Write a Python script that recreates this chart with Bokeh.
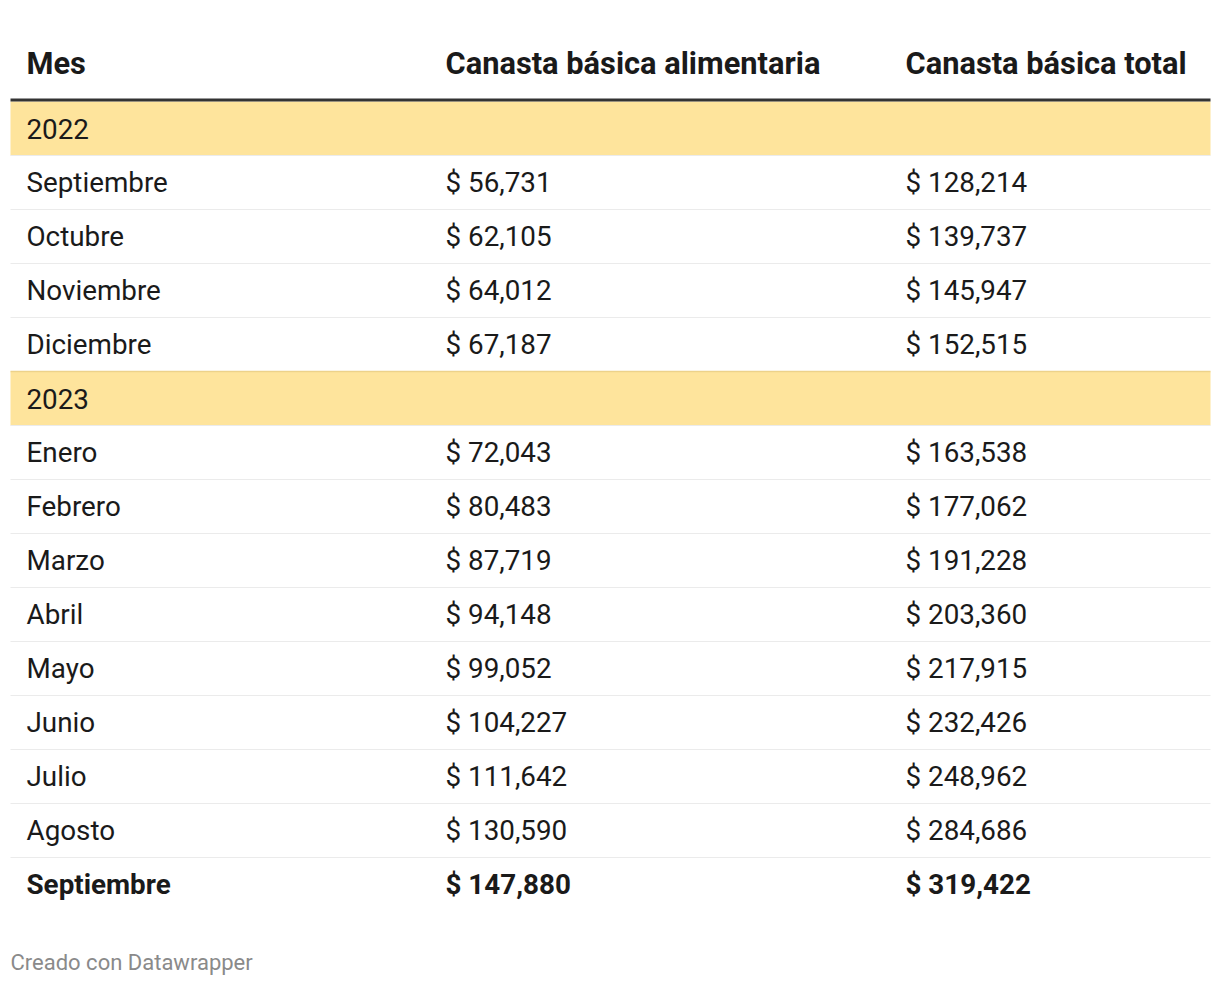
from bokeh.plotting import figure
from bokeh.models import Range1d, ColumnDataSource
from bokeh.core.properties import value
from bokeh.embed import file_html
from bokeh.resources import INLINE

headers = ["Mes", "Canasta básica alimentaria", "Canasta básica total"]
row_labels = ["2022", "Septiembre", "Octubre", "Noviembre", "Diciembre",
              "2023", "Enero", "Febrero", "Marzo", "Abril", "Mayo", "Junio",
              "Julio", "Agosto", "Septiembre"]
cba = [None, 56731, 62105, 64012, 67187, None, 72043, 80483, 87719, 94148,
       99052, 104227, 111642, 130590, 147880]
cbt = [None, 128214, 139737, 145947, 152515, None, 163538, 177062, 191228,
       203360, 217915, 232426, 248962, 284686, 319422]
footer = "Creado con Datawrapper"

W, H = 1212, 978
FONT = "Roboto"
ROW_H = 54
TOP = 101         # top of first body row
COL_X = [26, 445, 905]
LEFT, RIGHT = 10, 1210

p = figure(width=W, height=H, x_range=Range1d(0, W), y_range=Range1d(H, 0),
           output_backend="svg", toolbar_location=None, min_border=0)
p.axis.visible = False
p.grid.visible = False
p.outline_line_color = None
p.background_fill_color = "white"
p.border_fill_color = "white"

n = len(row_labels)
is_year = [c is None for c in cba]
tops = [TOP + ROW_H * i for i in range(n)]
centers = [t + ROW_H / 2 for t in tops]

# year bands
yt = [tops[i] for i in range(n) if is_year[i]]
p.quad(left=LEFT, right=RIGHT, top=yt, bottom=[t + ROW_H for t in yt],
       fill_color="#FEE49C", line_color=None)
p.segment(x0=LEFT, x1=RIGHT, y0=yt[1:], y1=yt[1:], line_color="#EDD28A", line_width=1.5)

# separators
seps = []
for i in range(n - 1):
    if is_year[i + 1]:
        continue
    seps.append(tops[i] + ROW_H)
p.segment(x0=LEFT, x1=RIGHT, y0=seps, y1=seps, line_color="#EBEBEB", line_width=1.2)

# header rule
p.segment(x0=[LEFT], x1=[RIGHT], y0=[TOP - 1.5], y1=[TOP - 1.5], line_color="#333333", line_width=3)

# header text
p.text(x=COL_X, y=[63] * 3, text=headers, text_font=value(FONT),
       text_font_style="bold", text_font_size="30.8px", text_color="#1a1a1a",
       text_baseline="middle", text_align="left")

def fmt(v):
    return "" if v is None else "$ {:,}".format(v)

last = n - 1
src = ColumnDataSource(dict(
    y=[centers[i] for i in range(last)],
    lab=row_labels[:last],
    a=[fmt(v) for v in cba[:last]],
    b=[fmt(v) for v in cbt[:last]],
))
for col, key in zip(COL_X, ["lab", "a", "b"]):
    p.text(x=col, y="y", text=key, source=src, text_font=value(FONT),
           text_font_size="27.8px", text_color="#1a1a1a",
           text_baseline="middle", text_align="left")

p.text(x=COL_X, y=[centers[last]] * 3,
       text=[row_labels[last], fmt(cba[last]), fmt(cbt[last])],
       text_font=value(FONT), text_font_style="bold", text_font_size="27.8px",
       text_color="#1a1a1a", text_baseline="middle", text_align="left")

p.text(x=[10], y=[962], text=[footer], text_font=value(FONT), text_font_size="22px",
       text_color="#8a8a8a", text_baseline="middle", text_align="left")

open("out.html", "w").write(file_html(p, INLINE))
